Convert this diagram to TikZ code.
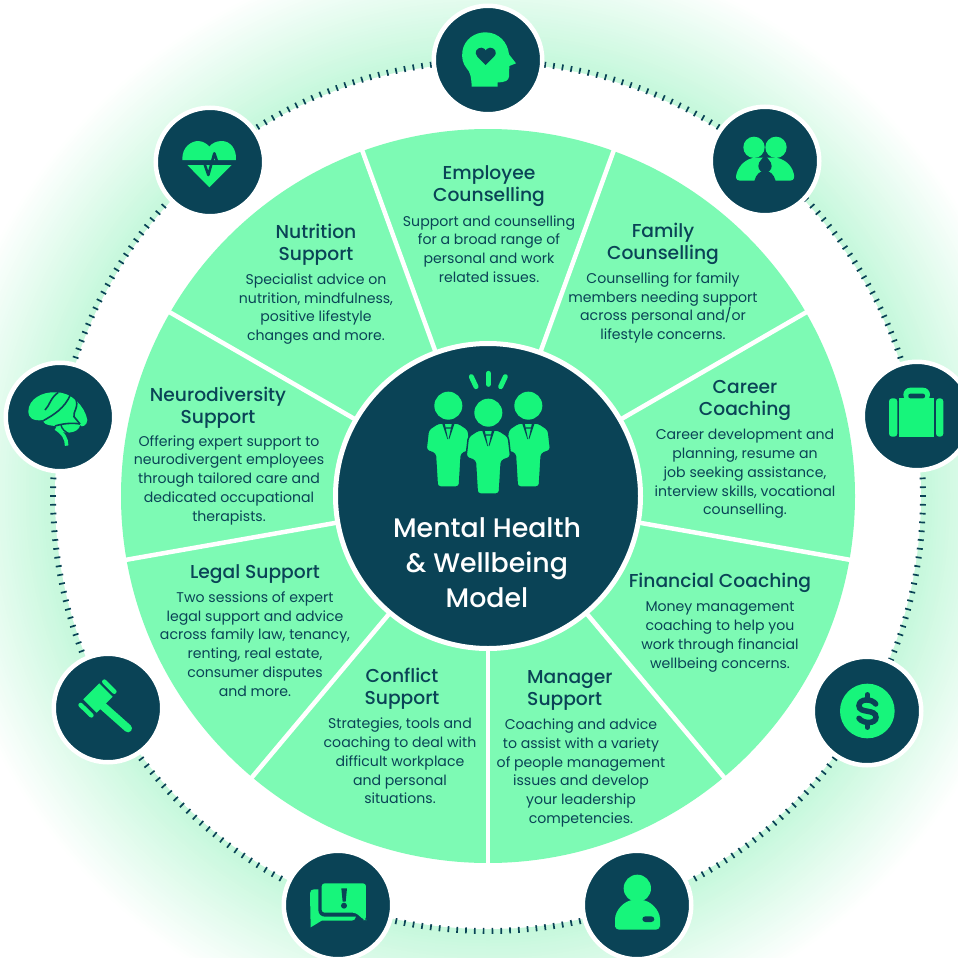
\documentclass[tikz,border=0pt]{standalone}
\usepackage{fontspec}
\setmainfont{Poppins}
\newfontfamily\titlefont{Poppins Medium}
\definecolor{deep}{HTML}{0A4356}
\definecolor{wedge}{HTML}{7DFAB4}
\definecolor{neon}{HTML}{17F57B}
\definecolor{haze}{HTML}{C6F8DC}
\tikzset{
  badge/.style={circle,draw=white,line width=4.5pt,fill=deep,minimum size=108.5pt,inner sep=0pt,outer sep=0pt},
  heading/.style={text=deep,align=center,inner sep=0pt,font=\titlefont\fontsize{18.7}{22}\selectfont},
  blurb/.style={text=deep,align=center,inner sep=0pt,font=\fontsize{14.1}{18.75}\selectfont},
  hub/.style={text=white,align=center,inner sep=0pt,font=\titlefont\fontsize{26.8}{35}\selectfont},
  divider/.style={draw=white,line width=4.5pt},
  tickmark/.style={draw=deep,line width=1.7pt}
}
\begin{document}
\begin{tikzpicture}[x=1pt,y=-1pt]
\useasboundingbox (0,0) rectangle (958,958);
\begin{scope}
\clip (0,0) rectangle (958,958);
\fill[white] (0,0) rectangle (958,958);
\foreach \r in {555,552,...,435}{
  \pgfmathtruncatemacro{\mixval}{min(100,(555-\r)*100/117)}
  \fill[haze!\mixval!white] (488,496) circle (\r pt);
}
\fill[white] (488,496) circle (433pt);
\foreach \k in {0,...,309}{
  \pgfmathsetmacro{\ang}{\k*1.16129}
  \draw[tickmark] ({488+432*cos(\ang)},{496+432*sin(\ang)}) -- ({488+438*cos(\ang)},{496+438*sin(\ang)});
}
\end{scope}
% wheel
\fill[wedge] (488,496) circle (367pt);
\foreach \a in {-110,-70,-30,10,50,90,130,170,210}{
  \draw[divider] (488,496) -- ({488+370*cos(\a)},{496+370*sin(\a)});
}
\node[circle,draw=white,line width=5pt,fill=deep,minimum size=305pt,inner sep=0pt] (core) at (488,496) {};
% badges
\node[badge] (b1) at (488,60) {};
\node[badge] (b2) at (765,161) {};
\node[badge] (b3) at (917,416) {};
\node[badge] (b4) at (867,711) {};
\node[badge] (b5) at (637,905) {};
\node[badge] (b6) at (338,905) {};
\node[badge] (b7) at (108,708) {};
\node[badge] (b8) at (60,417) {};
\node[badge] (b9) at (210,162) {};
% head icon
\begin{scope}[shift={(340,0)},scale=1/3]
\fill[neon] (395,260) .. controls (394,230) and (390,215) .. (380,205) .. controls (368,190) and (365,175) .. (367,155) .. controls (372,118) and (405,96) .. (438,97) .. controls (475,98) and (503,125) .. (507,163) -- (528,190) -- (508,198) -- (507,230) .. controls (506,242) and (495,247) .. (473,247) -- (473,260) -- cycle;
\fill[deep] (437,195) -- (412,170) .. controls (400,155) and (412,143) .. (425,143) .. controls (432,143) and (437,150) .. (437,152) .. controls (437,150) and (442,143) .. (450,143) .. controls (462,143) and (475,155) .. (462,170) -- cycle;
\end{scope}
% family, briefcase
\begin{scope}[shift={(690,90)},scale=1/3]
\fill[neon] (150,272) .. controls (135,272) and (138,258) .. (140,250) .. controls (147,225) and (170,205) .. (195,203) -- (255,203) .. controls (282,205) and (305,225) .. (311,250) .. controls (313,258) and (315,272) .. (300,272) -- cycle;
\fill[neon] (192,172) circle (32);
\fill[neon] (258,172) circle (32);
\fill[deep] (225,192) .. controls (228,205) and (245,212) .. (245,228) .. controls (245,240) and (235,248) .. (225,248) .. controls (215,248) and (205,240) .. (205,228) .. controls (205,212) and (222,205) .. (225,192) -- cycle;
\fill[deep] (193,273) .. controls (198,252) and (212,242) .. (225,242) .. controls (238,242) and (252,252) .. (257,273) -- cycle;
\fill[neon,rounded corners=3pt] (597,1040) rectangle (622,925);
\fill[neon,rounded corners=3pt] (738,1040) rectangle (760,925);
\fill[neon] (628,925) rectangle (733,1040);
\fill[neon,rounded corners=7pt] (640,935) -- (640,893) -- (720,893) -- (720,935) -- cycle;
\fill[deep,rounded corners=2pt] (655,925) -- (655,911) -- (705,911) -- (705,925) -- cycle;
\end{scope}
% dollar, manager
\begin{scope}[shift={(560,640)},scale=1/3]
\fill[neon] (922,213) circle (82);
\draw[deep,line width=5.5pt,line cap=round] (947,192) .. controls (935,175) and (898,175) .. (897,197) .. controls (897,222) and (948,205) .. (948,232) .. controls (948,252) and (910,252) .. (897,235);
\draw[deep,line width=4.5pt,line cap=round] (922,163) -- (922,178);
\draw[deep,line width=4.5pt,line cap=round] (922,250) -- (922,263);
\fill[neon,rounded corners=4pt] (165,869) -- (165,850) .. controls (165,810) and (195,780) .. (232,780) .. controls (270,780) and (300,810) .. (300,850) -- (300,869) -- cycle;
\fill[neon] (232,745) circle (41);
\fill[deep,rounded corners=3pt] (247,829) rectangle (283,846);
\end{scope}
% conflict, gavel
\begin{scope}[shift={(0,640)},scale=1/3]
\fill[neon,rounded corners=3pt] (965,730) -- (1098,730) -- (1098,840) -- (1092,840) -- (1067,818) -- (965,818) -- cycle;
\fill[neon] (955,748) -- (942,748) .. controls (935,748) and (930,752) .. (930,760) -- (932,862) -- (965,842) -- (1055,842) .. controls (1062,842) and (1066,838) .. (1068,830) -- (975,830) .. controls (962,830) and (955,822) .. (955,810) -- cycle;
\fill[deep] (1024,745) -- (1041,745) -- (1037,785) -- (1028,785) -- cycle;
\fill[deep] (1032,797) circle (9);
\fill[neon] (250,178) -- (298,130) -- (338,170) -- (290,218) -- cycle;
\draw[neon,line width=8pt,line cap=round] (305,195) -- (384,265);
\draw[neon,line width=4.6pt,line cap=round] (313,125) -- (343,155);
\draw[neon,line width=4.6pt,line cap=round] (242,195) -- (274,226);
\end{scope}
% brain, heart
\begin{scope}[shift={(0,100)},scale=1/3]
\fill[neon] (85,935) .. controls (85,895) and (130,875) .. (165,877) .. controls (215,875) and (255,920) .. (262,960) .. controls (262,975) and (245,985) .. (240,975) .. controls (240,1000) and (180,1010) .. (165,978) .. controls (135,975) and (130,970) .. (130,960) .. controls (95,965) and (85,950) .. (85,935) -- cycle;
\draw[deep,line width=1.6pt] (135,930) .. controls (150,915) and (150,895) .. (175,877);
\draw[deep,line width=1.6pt] (130,962) .. controls (160,945) and (195,925) .. (212,882);
\draw[deep,line width=1.6pt] (225,892) .. controls (240,920) and (218,935) .. (222,950) .. controls (226,958) and (236,964) .. (240,972);
\draw[deep,line width=1.6pt] (165,978) .. controls (190,970) and (220,968) .. (240,972);
\draw[neon,line width=3.6pt] (167,985) .. controls (190,1000) and (200,1015) .. (200,1037);
\draw[deep,line width=1.4pt] (183,975) .. controls (186,988) and (195,995) .. (208,1002);
\fill[neon] (547,180) .. controls (545,140) and (575,123) .. (595,123) .. controls (610,123) and (625,135) .. (628,140) .. controls (635,130) and (650,123) .. (665,123) .. controls (690,123) and (710,145) .. (708,180) -- cycle;
\fill[neon] (562,195) -- (695,195) -- (628,262) -- cycle;
\draw[deep,line width=2.6pt,line join=round] (547,187) -- (612,187) -- (625,225) -- (643,160) -- (652,187) -- (708,187);
\end{scope}
% central group
\begin{scope}[shift={(340,350)},scale=1/3]
\foreach \hx/\hy in {325/167,565/167,445/188}{
  \begin{scope}[shift={(\hx,\hy)}]
  \fill[neon,draw=deep,line width=1.5pt,rounded corners=3pt] (-67,134) -- (-60,72) -- (-30,52) -- (30,52) -- (60,72) -- (67,134) -- (39,144) -- (33,244) -- (-33,244) -- (-39,144) -- cycle;
  \fill[neon] (0,0) circle (42);
  \fill[deep] (-19,52) -- (-11,52) -- (-1,100) -- (-3,100) -- cycle;
  \fill[deep] (19,52) -- (11,52) -- (1,100) -- (3,100) -- cycle;
  \fill[deep] (-9,65) -- (9,65) -- (7,69) -- (-7,69) -- cycle;
  \end{scope}
}
\draw[neon,line width=5pt,line cap=round] (394,80) -- (408,110);
\draw[neon,line width=5pt,line cap=round] (445,70) -- (445,103);
\draw[neon,line width=5pt,line cap=round] (496,80) -- (482,110);
\end{scope}
% texts
\node[hub] (hubtitle) at (487,563) {Mental Health\\\& Wellbeing\\Model};
\node[heading] (t1) at (489,186) {Employee\\Counselling};
\node[blurb] (d1) at (489,249) {Support and counselling\\for a broad range of\\personal and work\\related issues.};
\node[heading] (t2) at (663,244) {Family\\Counselling};
\node[blurb] (d2) at (663,308) {Counselling for family\\members needing support\\across personal and/or\\lifestyle concerns.};
\node[heading] (t3) at (745,400) {Career\\Coaching};
\node[blurb] (d3) at (745,474) {Career development and\\planning, resume an\\job seeking assistance,\\interview skills, vocational\\counselling.};
\node[heading] (t4) at (720,583) {Financial Coaching};
\node[blurb] (d4) at (720,637) {Money management\\coaching to help you\\work through financial\\wellbeing concerns.};
\node[heading,align=left,anchor=west] (t5) at (527,690) {Manager\\Support};
\node[blurb] (d5) at (581,773) {Coaching and advice\\to assist with a variety\\of people management\\issues and develop\\your leadership\\competencies.};
\node[heading] (t6) at (402,689) {Conflict\\Support};
\node[blurb] (d6) at (400,761) {Strategies, tools and\\coaching to deal with\\difficult workplace\\and personal\\situations.};
\node[heading] (t7) at (255,574) {Legal Support};
\node[blurb] (d7) at (255,644) {Two sessions of expert\\legal support and advice\\across family law, tenancy,\\renting, real estate,\\consumer disputes\\and more.};
\node[heading] (t8) at (218,408) {Neurodiversity\\Support};
\node[blurb] (d8) at (229,480) {Offering expert support to\\neurodivergent employees\\through tailored care and\\dedicated occupational\\therapists.};
\node[heading] (t9) at (316,245) {Nutrition\\Support};
\node[blurb] (d9) at (316,309) {Specialist advice on\\nutrition, mindfulness,\\positive lifestyle\\changes and more.};
\end{tikzpicture}
\end{document}
